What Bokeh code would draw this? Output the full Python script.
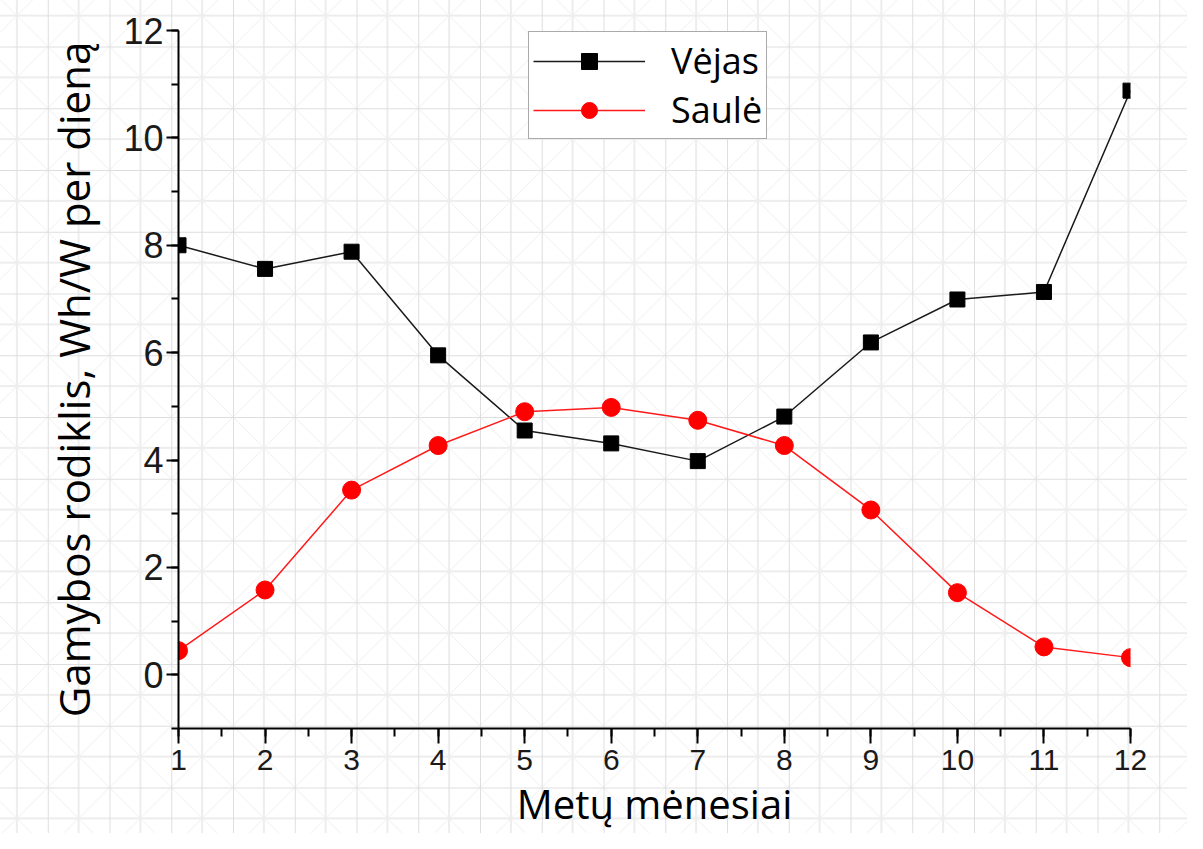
from bokeh.plotting import figure
from bokeh.models import SingleIntervalTicker, Legend, LegendItem, Range1d
from bokeh.embed import file_html
from bokeh.resources import INLINE

# ---- data ----
months = [1, 2, 3, 4, 5, 6, 7, 8, 9, 10, 11, 12]
vejas = [8.0, 7.56, 7.88, 5.95, 4.55, 4.31, 3.98, 4.81, 6.19, 6.99, 7.13, 10.88]
saule = [0.45, 1.58, 3.44, 4.27, 4.90, 4.98, 4.74, 4.27, 3.07, 1.53, 0.52, 0.32]
series_names = ["Vėjas", "Saulė"]
x_title = "Metų mėnesiai"
y_title = "Gamybos rodiklis, Wh/W per dieną"

p = figure(width=1187, height=833,
           x_range=Range1d(1, 12), y_range=Range1d(-1, 12),
           output_backend="svg", toolbar_location=None,
           min_border_left=178, min_border_right=57,
           min_border_top=30, min_border_bottom=103)

p.xgrid.visible = False
p.ygrid.visible = False
p.outline_line_color = None
p.background_fill_color = None
p.border_fill_color = None

# faint paper-like pattern behind the whole chart
tile = "61.75px 61.75px"
p.styles = {
    "background-color": "white",
    "background-image": ", ".join([
        "linear-gradient(to right, #dedede 0px, #dedede 1px, transparent 1px)",
        "linear-gradient(to bottom, #dedede 0px, #dedede 1px, transparent 1px)",
        "linear-gradient(to right, transparent calc(50% - 0.5px), #ededed calc(50% - 0.5px), #ededed calc(50% + 0.5px), transparent calc(50% + 0.5px))",
        "linear-gradient(to bottom, transparent calc(50% - 0.5px), #ededed calc(50% - 0.5px), #ededed calc(50% + 0.5px), transparent calc(50% + 0.5px))",
        "linear-gradient(45deg, transparent calc(50% - 0.7px), #efefef 50%, transparent calc(50% + 0.7px))",
        "linear-gradient(-45deg, transparent calc(50% - 0.7px), #efefef 50%, transparent calc(50% + 0.7px))",
    ]),
    "background-size": ", ".join([tile] * 6),
    "background-position": "47.75px 46.5px",
}

# ---- series ----
l1 = p.line(months, vejas, line_color="#1a1a1a", line_width=1.5)
m1 = p.scatter(months, vejas, marker="square", size=15,
               fill_color="black", line_color="black")
l2 = p.line(months, saule, line_color="#ff1a1a", line_width=1.5)
m2 = p.scatter(months, saule, marker="circle", size=18,
               fill_color="#ff0000", line_color="#ff0000")

# ---- axes ----
xa = p.xaxis[0]
xa.ticker = SingleIntervalTicker(interval=1, num_minor_ticks=2)
ya = p.yaxis[0]
ya.ticker = SingleIntervalTicker(interval=2, num_minor_ticks=2)

for ax in (xa, ya):
    ax.axis_line_color = "black"
    ax.axis_line_width = 2
    ax.major_tick_line_color = "black"
    ax.major_tick_line_width = 2
    ax.minor_tick_line_color = "black"
    ax.minor_tick_line_width = 2
    ax.major_tick_in = 0
    ax.minor_tick_in = 0
    ax.major_label_text_font = "Liberation Sans"
    ax.major_label_text_color = "#1a1a1a"
    ax.axis_label_text_font = "Open Sans"
    ax.axis_label_text_font_style = "normal"
    ax.axis_label_text_color = "black"
    try:
        ax.axis_label_background_fill_color = "white"
    except Exception:
        pass

xa.axis_label = x_title
xa.axis_label_text_font_size = "40px"
xa.axis_label_standoff = 3
xa.major_label_text_font_size = "30px"
xa.major_label_standoff = 6
xa.major_tick_out = 15
xa.minor_tick_out = 8

ya.axis_label = y_title
ya.axis_label_text_font_size = "42px"
ya.axis_label_standoff = 18
ya.major_label_text_font_size = "36px"
ya.major_label_standoff = 3
ya.major_tick_out = 12
ya.minor_tick_out = 7
try:
    ya.axis_label_align = "left"
except Exception:
    pass

# ---- legend ----
legend = Legend(items=[LegendItem(label=series_names[0], renderers=[l1, m1]),
                       LegendItem(label=series_names[1], renderers=[l2, m2])],
                location=(350, 589))
legend.label_text_font = "Open Sans"
legend.label_text_font_size = "36px"
legend.label_text_color = "black"
legend.glyph_width = 112
legend.glyph_height = 40
legend.label_height = 40
legend.label_standoff = 26
legend.padding = 4
legend.spacing = 0
legend.margin = 0
legend.border_line_color = "#555555"
legend.border_line_width = 1.5
legend.background_fill_color = "white"
legend.background_fill_alpha = 1.0
p.add_layout(legend)

open("out.html", "w").write(file_html(p, INLINE))
